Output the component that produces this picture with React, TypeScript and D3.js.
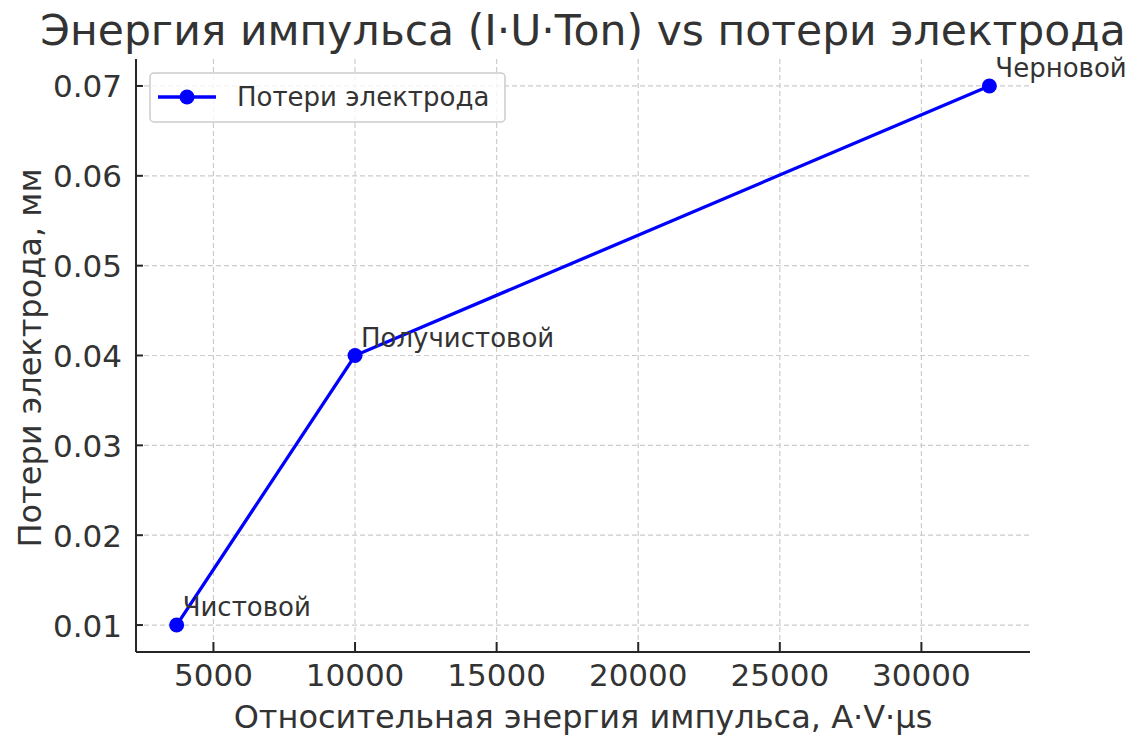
import React from "react";
import * as d3 from "d3";

const energies = [3700, 10000, 32400];
const losses = [0.01, 0.04, 0.07];
const modes = ["Чистовой", "Получистовой", "Черновой"];
const xTicks = [5000, 10000, 15000, 20000, 25000, 30000];
const yTicks = [0.01, 0.02, 0.03, 0.04, 0.05, 0.06, 0.07];
const title = "Энергия импульса (I·U·Ton) vs потери электрода";
const xLabel = "Относительная энергия импульса, A·V·μs";
const yLabel = "Потери электрода, мм";
const seriesName = "Потери электрода";

const W = 1139, H = 737;
const L = 136, R = 1030, T = 59, B = 652;
const FONT = "DejaVu Sans, sans-serif";
const TXT = "#333333";

export default function App() {
  const xr = d3.extent(energies) as [number, number];
  const yr = d3.extent(losses) as [number, number];
  const xm = (xr[1] - xr[0]) * 0.05;
  const ym = (yr[1] - yr[0]) * 0.05;
  const x = d3.scaleLinear().domain([xr[0] - xm, xr[1] + xm]).range([L, R]);
  const y = d3.scaleLinear().domain([yr[0] - ym, yr[1] + ym]).range([B, T]);
  const line = d3.line<number>().x((d, i) => x(energies[i])).y((d) => y(d));
  return (
    <svg width={W} height={H} style={{ display: "block", position: "absolute", left: 0, top: 0 }} fontFamily={FONT}>
      <rect width={W} height={H} fill="#fff" />
      {xTicks.map((t) => (
        <line key={"gx" + t} x1={x(t)} x2={x(t)} y1={T} y2={B} stroke="#cccccc" strokeWidth={1.2} strokeDasharray="5,3" />
      ))}
      {yTicks.map((t) => (
        <line key={"gy" + t} x1={L} x2={R} y1={y(t)} y2={y(t)} stroke="#cccccc" strokeWidth={1.2} strokeDasharray="5,3" />
      ))}
      <line x1={L} x2={L} y1={T} y2={B} stroke="#262626" strokeWidth={2} />
      <line x1={L} x2={R} y1={B} y2={B} stroke="#262626" strokeWidth={2} />
      {xTicks.map((t) => (
        <g key={"tx" + t}>
          <line x1={x(t)} x2={x(t)} y1={B} y2={B - 10} stroke="#262626" strokeWidth={2} />
          <text x={x(t)} y={B + 34} textAnchor="middle" fontSize={31} fill={TXT}>{t}</text>
        </g>
      ))}
      {yTicks.map((t) => (
        <g key={"ty" + t}>
          <line x1={L} x2={L + 7} y1={y(t)} y2={y(t)} stroke="#262626" strokeWidth={2} />
          <text x={L - 14} y={y(t) + 11.5} textAnchor="end" fontSize={31} fill={TXT}>{t.toFixed(2)}</text>
        </g>
      ))}
      <path d={line(losses) || ""} fill="none" stroke="#0000ff" strokeWidth={3.3} />
      {losses.map((v, i) => (
        <circle key={"p" + i} cx={x(energies[i])} cy={y(v)} r={7.5} fill="#0000ff" />
      ))}
      {losses.map((v, i) => (
        <text key={"a" + i} x={x(energies[i]) + 6} y={y(v) - 9} fontSize={26} fill={TXT}>{modes[i]}</text>
      ))}
      <g>
        <rect x={150} y={73} width={355} height={49} rx={4} fill="#fff" fillOpacity={0.8} stroke="#cccccc" strokeWidth={1.5} />
        <line x1={158} x2={216} y1={97} y2={97} stroke="#0000ff" strokeWidth={3.3} />
        <circle cx={187} cy={97} r={7.5} fill="#0000ff" />
        <text x={237} y={106} fontSize={26} fill={TXT}>{seriesName}</text>
      </g>
      <text x={583} y={45} textAnchor="middle" fontSize={42.5} fill={TXT}>{title}</text>
      <text x={583} y={728} textAnchor="middle" fontSize={32} fill={TXT}>{xLabel}</text>
      <text transform={`translate(41,358) rotate(-90)`} textAnchor="middle" fontSize={32} fill={TXT}>{yLabel}</text>
    </svg>
  );
}
